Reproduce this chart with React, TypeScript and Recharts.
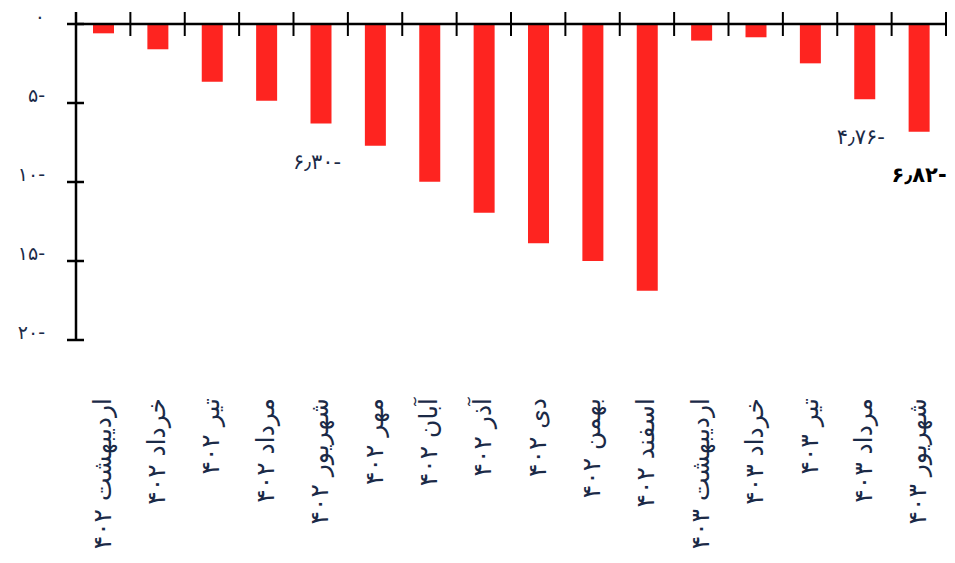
import React from "react";
import { BarChart, Bar, XAxis, YAxis, ReferenceLine, LabelList } from "recharts";

const categories = [
  "اردیبهشت ۴۰۲", "خرداد ۴۰۲", "تیر ۴۰۲", "مرداد ۴۰۲", "شهریور ۴۰۲", "مهر ۴۰۲",
  "آبان ۴۰۲", "آذر ۴۰۲", "دی ۴۰۲", "بهمن ۴۰۲", "اسفند ۴۰۲",
  "اردیبهشت ۴۰۳", "خرداد ۴۰۳", "تیر ۴۰۳", "مرداد ۴۰۳", "شهریور ۴۰۳",
];
const values = [-0.59, -1.6, -3.65, -4.85, -6.3, -7.7, -9.98, -11.94, -13.88, -15.0, -16.88, -1.05, -0.84, -2.49, -4.76, -6.82];
const barLabels = ["", "", "", "", "۶٫۳۰-", "", "", "", "", "", "", "", "", "", "۴٫۷۶-", "۶٫۸۲-"];
const boldLabel = [false, false, false, false, false, false, false, false, false, false, false, false, false, false, false, true];
const yTicks = [0, -5, -10, -15, -20];
const yTickLabels = ["۰", "۵-", "۱۰-", "۱۵-", "۲۰-"];

const data = categories.map((name, i) => ({ name, value: values[i], label: barLabels[i], bold: boldLabel[i] }));

const W = 940;
const H = 554;
const MARGIN = { top: 8, right: 2, bottom: 0, left: 0 };
const YW = 68;
const PLOT_W = W - MARGIN.left - MARGIN.right - YW;
const BW = PLOT_W / categories.length;
const FONT = "'DejaVu Sans', sans-serif";
const TXT = "#1b2a47";

const YTick = (props: any) => {
  const { x, y, payload } = props;
  const idx = yTicks.indexOf(payload.value);
  return (
    <g>
      <line x1={x - 9} x2={x + 8} y1={y} y2={y} stroke="#000" strokeWidth={2.5} />
      <text x={x - 31} y={y - 8} textAnchor="end" dominantBaseline="central" fontFamily={FONT} fontSize={19} fill={TXT}>
        {yTickLabels[idx]}
      </text>
    </g>
  );
};

const TopTick = (props: any) => {
  const { x, y } = props;
  const bx = x + BW / 2;
  return <line x1={bx} x2={bx} y1={y} y2={y + 24} stroke="#000" strokeWidth={2} />;
};

const BottomTick = (props: any) => {
  const { x, y, payload } = props;
  const ty = y + 58;
  return (
    <text
      x={x - 1}
      y={ty}
      transform={`rotate(-90, ${x - 1}, ${ty})`}
      textAnchor="end"
      dominantBaseline="central"
      fontFamily={FONT}
      fontSize={25}
      fill={TXT}
    >
      {payload.value}
    </text>
  );
};

const BarLabel = (props: any) => {
  const { x, y, width, height, index } = props;
  const d = data[index];
  if (!d || !d.label) return null;
  const bottom = Math.max(y, y + height);
  const cx = x + width / 2;
  return (
    <text
      x={cx - (d.bold ? 0 : 4)}
      y={bottom + (d.bold ? 43 : 38)}
      textAnchor="middle"
      dominantBaseline="central"
      fontFamily={FONT}
      fontSize={d.bold ? 21 : 21}
      fontWeight={d.bold ? "bold" : "normal"}
      fill={d.bold ? "#000" : TXT}
    >
      {d.label}
    </text>
  );
};

export default function App() {
  return (
    <div style={{ marginTop: -8 }}>
      <BarChart width={W} height={H} data={data} margin={MARGIN}>
        <XAxis xAxisId="top" dataKey="name" orientation="top" height={4} axisLine={false} tickLine={false} tickSize={0} tickMargin={0} tick={<TopTick />} interval={0} />
        <XAxis xAxisId="bottom" dataKey="name" orientation="bottom" height={214} axisLine={false} tickLine={false} tickSize={0} tickMargin={0} tick={<BottomTick />} interval={0} />
        <YAxis
          width={YW}
          domain={[-20, 0]}
          ticks={yTicks}
          padding={{ top: 12, bottom: 0 }}
          axisLine={{ stroke: "#000", strokeWidth: 2.5 }}
          tickLine={false}
          tickSize={0}
          tickMargin={0}
          tick={<YTick />}
          interval={0}
        />
        <ReferenceLine y={0} xAxisId="bottom" stroke="#000" strokeWidth={2.5} />
        <Bar dataKey="value" xAxisId="bottom" fill="#FE2420" barSize={21} isAnimationActive={false}>
          <LabelList dataKey="label" content={<BarLabel />} />
        </Bar>
      </BarChart>
    </div>
  );
}
